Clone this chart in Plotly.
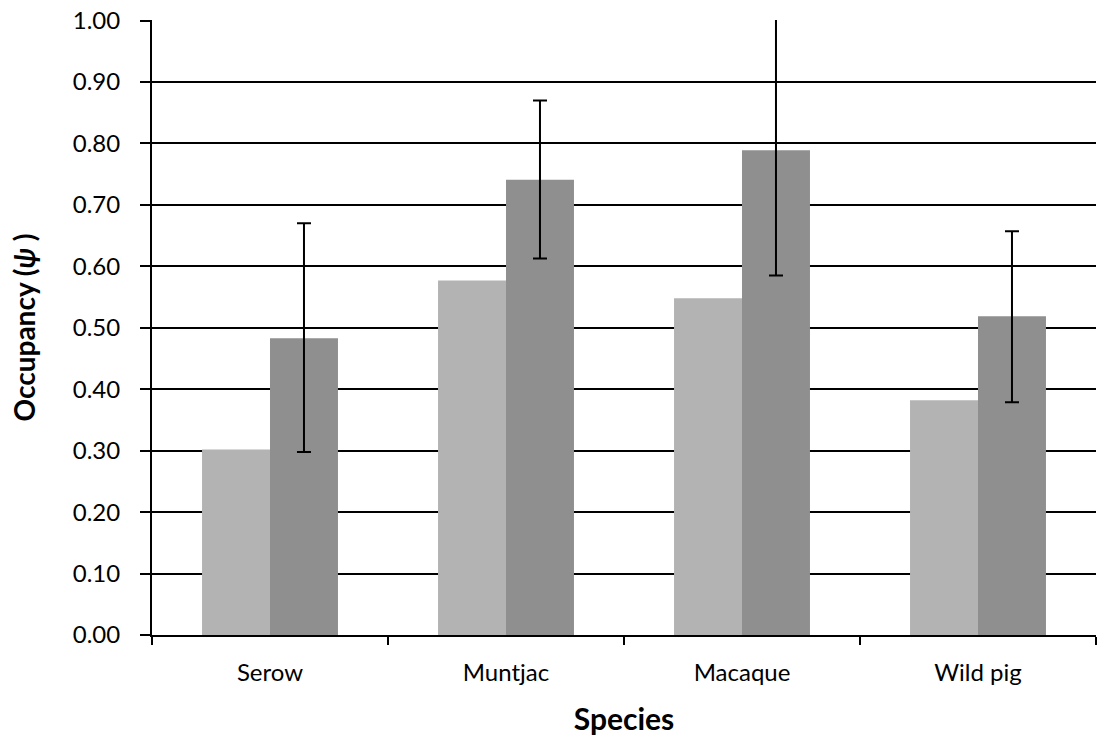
import plotly.graph_objects as go

species = ["Serow", "Muntjac", "Macaque", "Wild pig"]
naive_occ = [0.302, 0.577, 0.548, 0.382]
model_occ = [0.483, 0.741, 0.789, 0.519]
ci_upper = [0.670, 0.870, 1.02, 0.657]
ci_lower = [0.298, 0.613, 0.585, 0.379]
y_ticks = [0.0, 0.1, 0.2, 0.3, 0.4, 0.5, 0.6, 0.7, 0.8, 0.9, 1.0]

err_plus = [u - m for u, m in zip(ci_upper, model_occ)]
err_minus = [m - l for m, l in zip(model_occ, ci_lower)]

fig = go.Figure()
fig.add_trace(go.Bar(x=species, y=naive_occ, marker=dict(color="#b3b3b3", line=dict(width=0)),
                     name="Naive"))
fig.add_trace(go.Bar(x=species, y=model_occ, marker=dict(color="#8f8f8f", line=dict(width=0)),
                     name="Estimated",
                     error_y=dict(type="data", symmetric=False, array=err_plus, arrayminus=err_minus,
                                  color="black", thickness=2, width=7)))

font_family = "Lato, 'Open Sans', sans-serif"
fig.update_layout(
    width=1097, height=736,
    margin=dict(l=152, r=1, t=20, b=101, autoexpand=False),
    paper_bgcolor="white", plot_bgcolor="white",
    barmode="group", bargap=0.424, bargroupgap=0,
    showlegend=False,
    font=dict(family=font_family, color="black"),
    xaxis=dict(
        automargin=False,
        title=dict(text="<b>Species</b>", font=dict(size=30, family=font_family), standoff=32),
        tickfont=dict(size=24, family=font_family),
        ticklabelstandoff=15,
        showline=True, linecolor="black", linewidth=2,
        ticks="outside", tickson="boundaries", ticklen=8, tickwidth=2, tickcolor="black",
        showgrid=False,
    ),
    yaxis=dict(
        automargin=False,
        title=dict(text="<b>Occupancy (<i>ψ</i> )</b>", font=dict(size=28, family=font_family), standoff=29),
        range=[0, 1.001], tickvals=y_ticks, tickformat=".2f",
        tickfont=dict(size=24, family=font_family),
        ticklabelstandoff=15, ticklabeloverflow="allow",
        showline=True, linecolor="black", linewidth=2,
        ticks="outside", ticklen=10, tickwidth=2, tickcolor="black",
        showgrid=True, gridcolor="black", gridwidth=2,
        zeroline=False,
    ),
)

fig.write_html("out.html", config={"displayModeBar": False},
               post_script="document.body.style.margin='0';document.body.style.overflow='hidden';")
